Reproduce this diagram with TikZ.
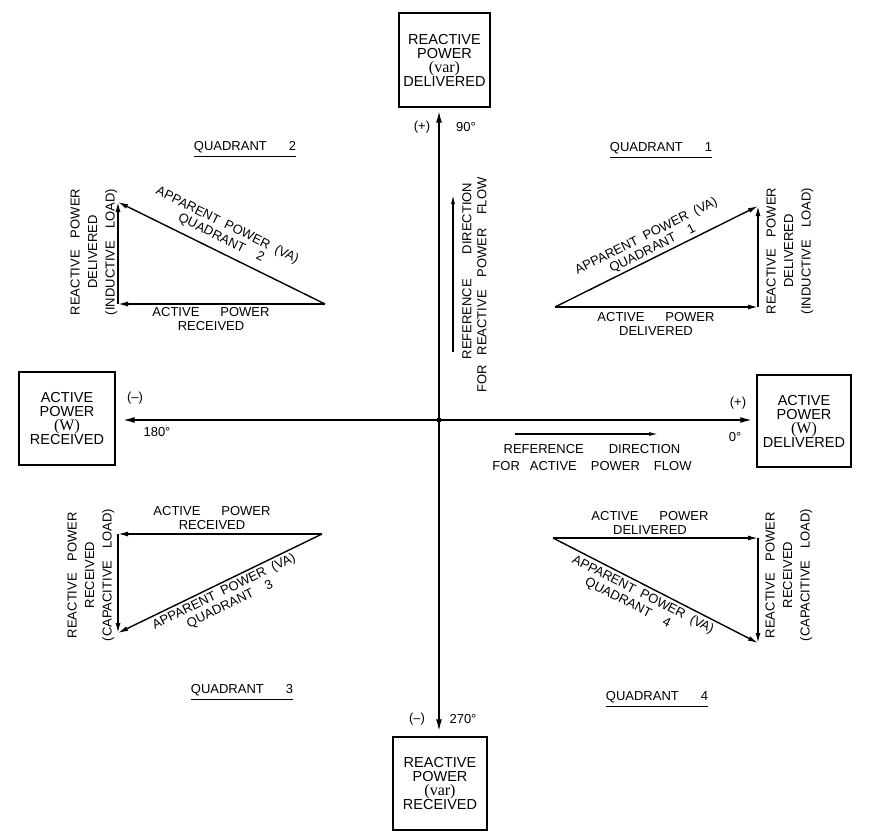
\documentclass[tikz,border=0pt]{standalone}
\usepackage{fontspec}
\setmainfont{Liberation Sans}
\newfontfamily\boxserif{Liberation Serif}
\usetikzlibrary{arrows.meta}
\newcommand\wg[1]{\hspace{#1pt}}
\begin{document}
\begin{tikzpicture}[x=1pt,y=-1pt,
  lbl/.style={font=\fontsize{13}{14}\selectfont, inner sep=1pt, align=center},
  rlbl/.style={lbl, rotate=90, font=\fontsize{13}{17.5}\selectfont},
  boxn/.style={draw, line width=1.4pt, align=center, inner sep=0pt,
    font=\fontsize{14.5}{14}\selectfont},
  axisarrow/.style={line width=1.8pt, -{Latex[length=12pt,width=6pt]}},
  vec/.style={line width=1.4pt, -{Latex[length=10pt,width=5pt]}},
  refarrow/.style={line width=1.2pt, -{Latex[length=9pt,width=4pt]}},
  quadlbl/.style={lbl, inner xsep=0pt, inner ysep=3.5pt},
  uline/.style={line width=1.2pt}]
\useasboundingbox (0,0) rectangle (880,835);

% ---- boxes ----
\node[boxn, minimum width=91pt, minimum height=94pt] (top) at (444.5,60)
  {REACTIVE\\POWER\\{\boxserif\fontsize{16}{14}\selectfont (var)}\\DELIVERED};
\node[boxn, minimum width=94pt, minimum height=93pt] (bot) at (440,783.5)
  {REACTIVE\\POWER\\{\boxserif\fontsize{16}{14}\selectfont (var)}\\RECEIVED};
\node[boxn, minimum width=96pt, minimum height=93pt] (left) at (67,418.5)
  {ACTIVE\\POWER\\{\boxserif\fontsize{16}{14}\selectfont (W)}\\RECEIVED};
\node[boxn, minimum width=94pt, minimum height=92pt] (right) at (804,421)
  {ACTIVE\\POWER\\{\boxserif\fontsize{16}{14}\selectfont (W)}\\DELIVERED};

% ---- axes ----
\coordinate (O) at (439,420);
\fill (O) circle (2.6pt);
\draw[axisarrow, shorten >=3pt] (O) -- (O |- top.south);
\draw[axisarrow, shorten >=5pt] (O) -- (O |- bot.north);
\draw[axisarrow, shorten >=7pt] (O) -- (O -| left.east);
\draw[axisarrow, shorten >=4pt] (O) -- (O -| right.west);

\node[lbl] (plus90) at (422,127) {(+)};
\node[lbl] (deg90) at (466,127) {90°};
\node[lbl] (minus270) at (417,719) {(--)};
\node[lbl] (deg270) at (463,719) {270°};
\node[lbl] (minus180) at (135,398) {(--)};
\node[lbl] (deg180) at (157,432) {180°};
\node[lbl] (plus0) at (738,403) {(+)};
\node[lbl] (deg0) at (735,437) {0°};

% ---- reference directions ----
\coordinate (hrefA) at (515,434);
\coordinate (hrefB) at (658,434);
\draw[refarrow] (hrefA) -- (hrefB);
\node[lbl, font=\fontsize{13}{17}\selectfont] (hreflbl) at (592,458)
  {REFERENCE\wg{25}DIRECTION\\FOR\wg{10}ACTIVE\wg{14}POWER\wg{14}FLOW};
\coordinate (vrefA) at (453,352);
\coordinate (vrefB) at (453,195);
\draw[refarrow] (vrefA) -- (vrefB);
\node[rlbl] (vreflblA) at (467,271) {REFERENCE\wg{25}DIRECTION};
\node[rlbl] (vreflblB) at (482,285) {FOR\wg{10}REACTIVE\wg{13}POWER\wg{13}FLOW};

% ---- Quadrant 1 ----
\coordinate (q1o) at (555,307);
\coordinate (q1c) at (758,307);
\coordinate (q1t) at (758,206);
\draw[vec] (q1o) -- (q1c);
\draw[vec] (q1c) -- (q1t);
\draw[vec] (q1o) -- node[lbl, sloped, above, pos=0.5, inner sep=2pt] (q1va)
  {APPARENT\wg{7}POWER\wg{7}(VA)\\QUADRANT\wg{14}1} (q1t);
\node[lbl, anchor=north] (q1ap) at (656,311) {ACTIVE\wg{21}POWER\\DELIVERED};
\node[rlbl] (q1rp) at (790,251) {REACTIVE\wg{12}POWER\\DELIVERED\\(INDUCTIVE\wg{12}LOAD)};
\node[quadlbl] (q1lab) at (661,148) {QUADRANT\wg{22}1};
\draw[uline] (q1lab.south west) -- (q1lab.south east);

% ---- Quadrant 2 ----
\coordinate (q2r) at (325,304);
\coordinate (q2c) at (118,304);
\coordinate (q2t) at (118,202);
\draw[vec] (q2r) -- (q2c);
\draw[vec] (q2c) -- (q2t);
\draw[vec] (q2r) -- (q2t);
\path (q2t) -- node[lbl, sloped, above, pos=0.47, inner sep=7pt] (q2va)
  {APPARENT\wg{7}POWER\wg{7}(VA)\\QUADRANT\wg{14}2} (q2r);
\node[lbl, anchor=north] (q2ap) at (211,306) {ACTIVE\wg{21}POWER\\RECEIVED};
\node[rlbl] (q2rp) at (94,252) {REACTIVE\wg{12}POWER\\DELIVERED\\(INDUCTIVE\wg{12}LOAD)};
\node[quadlbl] (q2lab) at (245,147) {QUADRANT\wg{22}2};
\draw[uline] (q2lab.south west) -- (q2lab.south east);

% ---- Quadrant 3 ----
\coordinate (q3r) at (322,534);
\coordinate (q3c) at (118,534);
\coordinate (q3b) at (118,633);
\draw[vec] (q3r) -- (q3c);
\draw[vec] (q3c) -- (q3b);
\draw[vec] (q3r) -- (q3b);
\path (q3b) -- node[lbl, sloped, below, pos=0.5, inner sep=3pt] (q3va)
  {APPARENT\wg{7}POWER\wg{7}(VA)\\QUADRANT\wg{14}3} (q3r);
\node[lbl, anchor=south] (q3ap) at (212,531) {ACTIVE\wg{21}POWER\\RECEIVED};
\node[rlbl] (q3rp) at (91,575) {REACTIVE\wg{12}POWER\\RECEIVED\\(CAPACITIVE\wg{12}LOAD)};
\node[quadlbl] (q3lab) at (242,690) {QUADRANT\wg{22}3};
\draw[uline] (q3lab.south west) -- (q3lab.south east);

% ---- Quadrant 4 ----
\coordinate (q4l) at (553,538);
\coordinate (q4c) at (758,538);
\coordinate (q4b) at (758,643);
\draw[vec] (q4l) -- (q4c);
\draw[vec] (q4c) -- (q4b);
\draw[vec] (q4l) -- node[lbl, sloped, below, pos=0.46, inner sep=3pt] (q4va)
  {APPARENT\wg{7}POWER\wg{7}(VA)\\QUADRANT\wg{14}4\hspace*{20pt}} (q4b);
\node[lbl, anchor=south] (q4ap) at (650,536) {ACTIVE\wg{21}POWER\\DELIVERED};
\node[rlbl] (q4rp) at (789,575) {REACTIVE\wg{12}POWER\\RECEIVED\\(CAPACITIVE\wg{12}LOAD)};
\node[quadlbl] (q4lab) at (657,697) {QUADRANT\wg{22}4};
\draw[uline] (q4lab.south west) -- (q4lab.south east);
\end{tikzpicture}
\end{document}
